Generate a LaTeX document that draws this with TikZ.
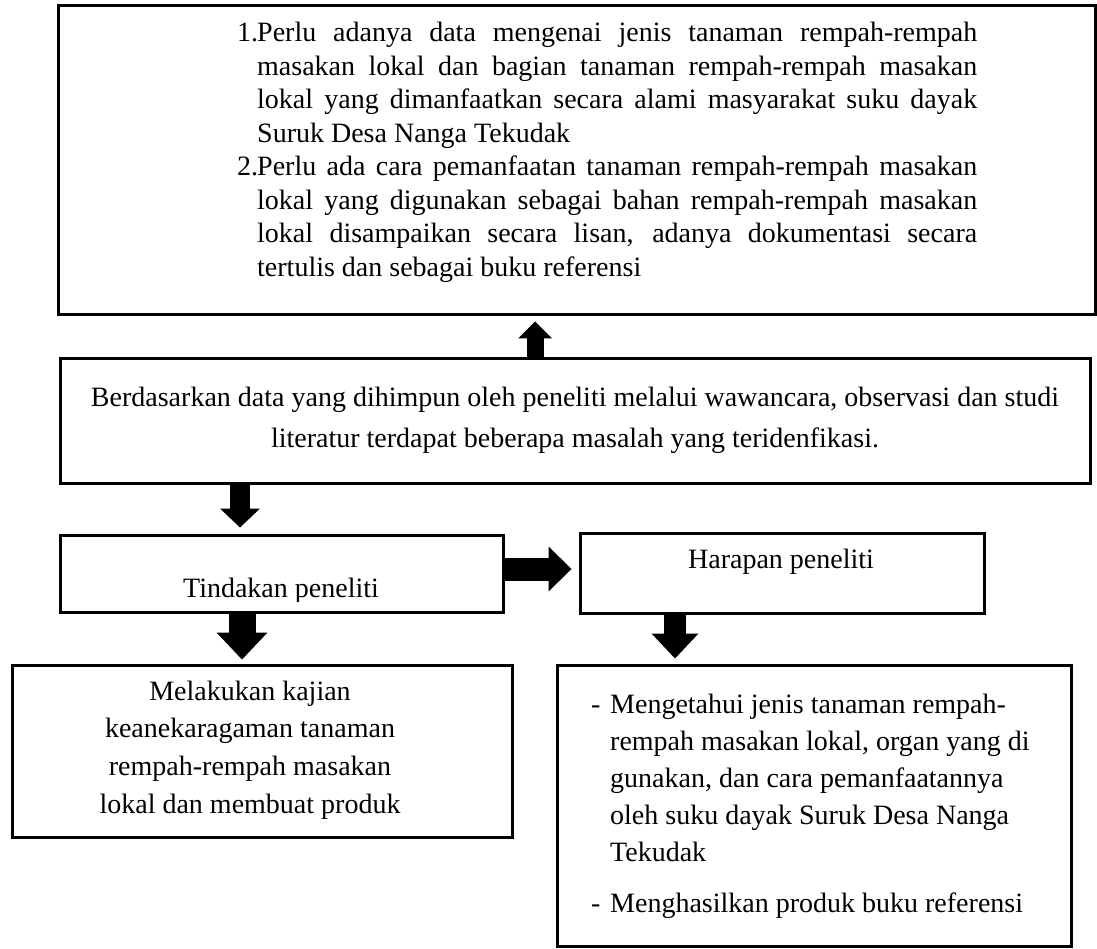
\documentclass[tikz,border=0pt]{standalone}
\usepackage{fontspec}
\setmainfont{Liberation Serif}
\usetikzlibrary{arrows.meta}

\tikzset{
  box/.style={draw, line width=3pt, inner sep=0pt},
  txt/.style={inner sep=0pt, font=\fontsize{28}{37}\selectfont},
  blk/.style n args={3}{line width=#1, -{Triangle[length=#3,width=#2,line width=0pt]}},
}

\begin{document}
\begin{tikzpicture}[x=1pt,y=-1pt]
	\useasboundingbox (0,0) rectangle (1097,949);
	% boxes
	\node[box, minimum width=1037pt, minimum height=309pt] (prob) at (576.5,160.5) {};
	\node[box, txt, minimum width=1030pt, minimum height=125pt, align=center,
	  font=\fontsize{28}{41}\selectfont] (mid) at (575,420.5)
	  {Berdasarkan data yang dihimpun oleh peneliti melalui wawancara, observasi dan studi\\
	   literatur terdapat beberapa masalah yang teridenfikasi.};
	\node[box, minimum width=443pt, minimum height=77pt] (tind) at (281.5,573.5) {};
	\node[box, minimum width=404pt, minimum height=80pt] (harap) at (782,573) {};
	\node[box, minimum width=500pt, minimum height=172pt] (kajian) at (262,751) {};
	\node[box, minimum width=514pt, minimum height=281pt] (hasil) at (814,805.5) {};
	%
	\node[txt, anchor=base west, font=\fontsize{28}{33.5}\selectfont] (probtext) at (237,42) {%
	  \tolerance=9999 \exhyphenpenalty=10000 \hyphenpenalty=10000
	  \begin{tabular}[t]{@{}p{20pt}@{}p{720pt}@{}}
	  1. & Perlu adanya data mengenai jenis tanaman rempah-rempah \linebreak
	       masakan lokal dan bagian tanaman rempah-rempah masakan \linebreak
	       lokal yang dimanfaatkan secara alami masyarakat suku dayak \linebreak
	       Suruk Desa Nanga Tekudak\\
	  2. & Perlu ada cara pemanfaatan tanaman rempah-rempah masakan \linebreak
	       lokal yang digunakan sebagai bahan rempah-rempah masakan \linebreak
	       lokal disampaikan secara lisan, adanya dokumentasi secara \linebreak
	       tertulis dan sebagai buku referensi
	  \end{tabular}};
	\begin{scope}
	  \clip (tind.north west) rectangle ([yshift=12pt]tind.south east);
	  \node[txt, anchor=base] (tindtext) at (281,597) {Tindakan peneliti};
	\end{scope}
	\node[txt, anchor=base] (haraptext) at (781,568) {Harapan peneliti};
	\node[txt, align=center, font=\fontsize{28}{37.7}\selectfont] (kajiantext) at (250,750)
	  {Melakukan kajian\\ keanekaragaman tanaman\\ rempah-rempah masakan\\ lokal dan membuat produk};
	\node[txt, anchor=base west] (hasiltext) at (591,713) {%
	  \begin{tabular}[t]{@{}p{19pt}@{}l@{}}
	  - & Mengetahui jenis tanaman rempah-\\
	    & rempah masakan lokal, organ yang di\\
	    & gunakan, dan cara pemanfaatannya\\
	    & oleh suku dayak Suruk Desa Nanga\\
	    & Tekudak\\[14pt]
	  - & Menghasilkan produk buku referensi
	  \end{tabular}};
	%
	\coordinate (x0) at (535,0);
	\coordinate (x1) at (240,0);
	\coordinate (x2) at (242,0);
	\coordinate (x3) at (675,0);
	\coordinate (y0) at (0,569);
	\draw[blk={17pt}{34pt}{17pt}, shorten >=5pt] (mid.north -| x0) -- (prob.south -| x0);
	\draw[blk={20pt}{40pt}{19pt}, shorten >=6pt] (mid.south -| x1) -- (tind.north -| x1);
	\draw[blk={23pt}{45pt}{23pt}, shorten >=7pt] (tind.east |- y0) -- (harap.west |- y0);
	\draw[blk={27pt}{51pt}{27pt}, shorten >=4pt] (tind.south -| x2) -- (kajian.north -| x2);
	\draw[blk={22pt}{47pt}{25pt}, shorten >=5pt] (harap.south -| x3) -- (hasil.north -| x3);
\end{tikzpicture}
\end{document}
